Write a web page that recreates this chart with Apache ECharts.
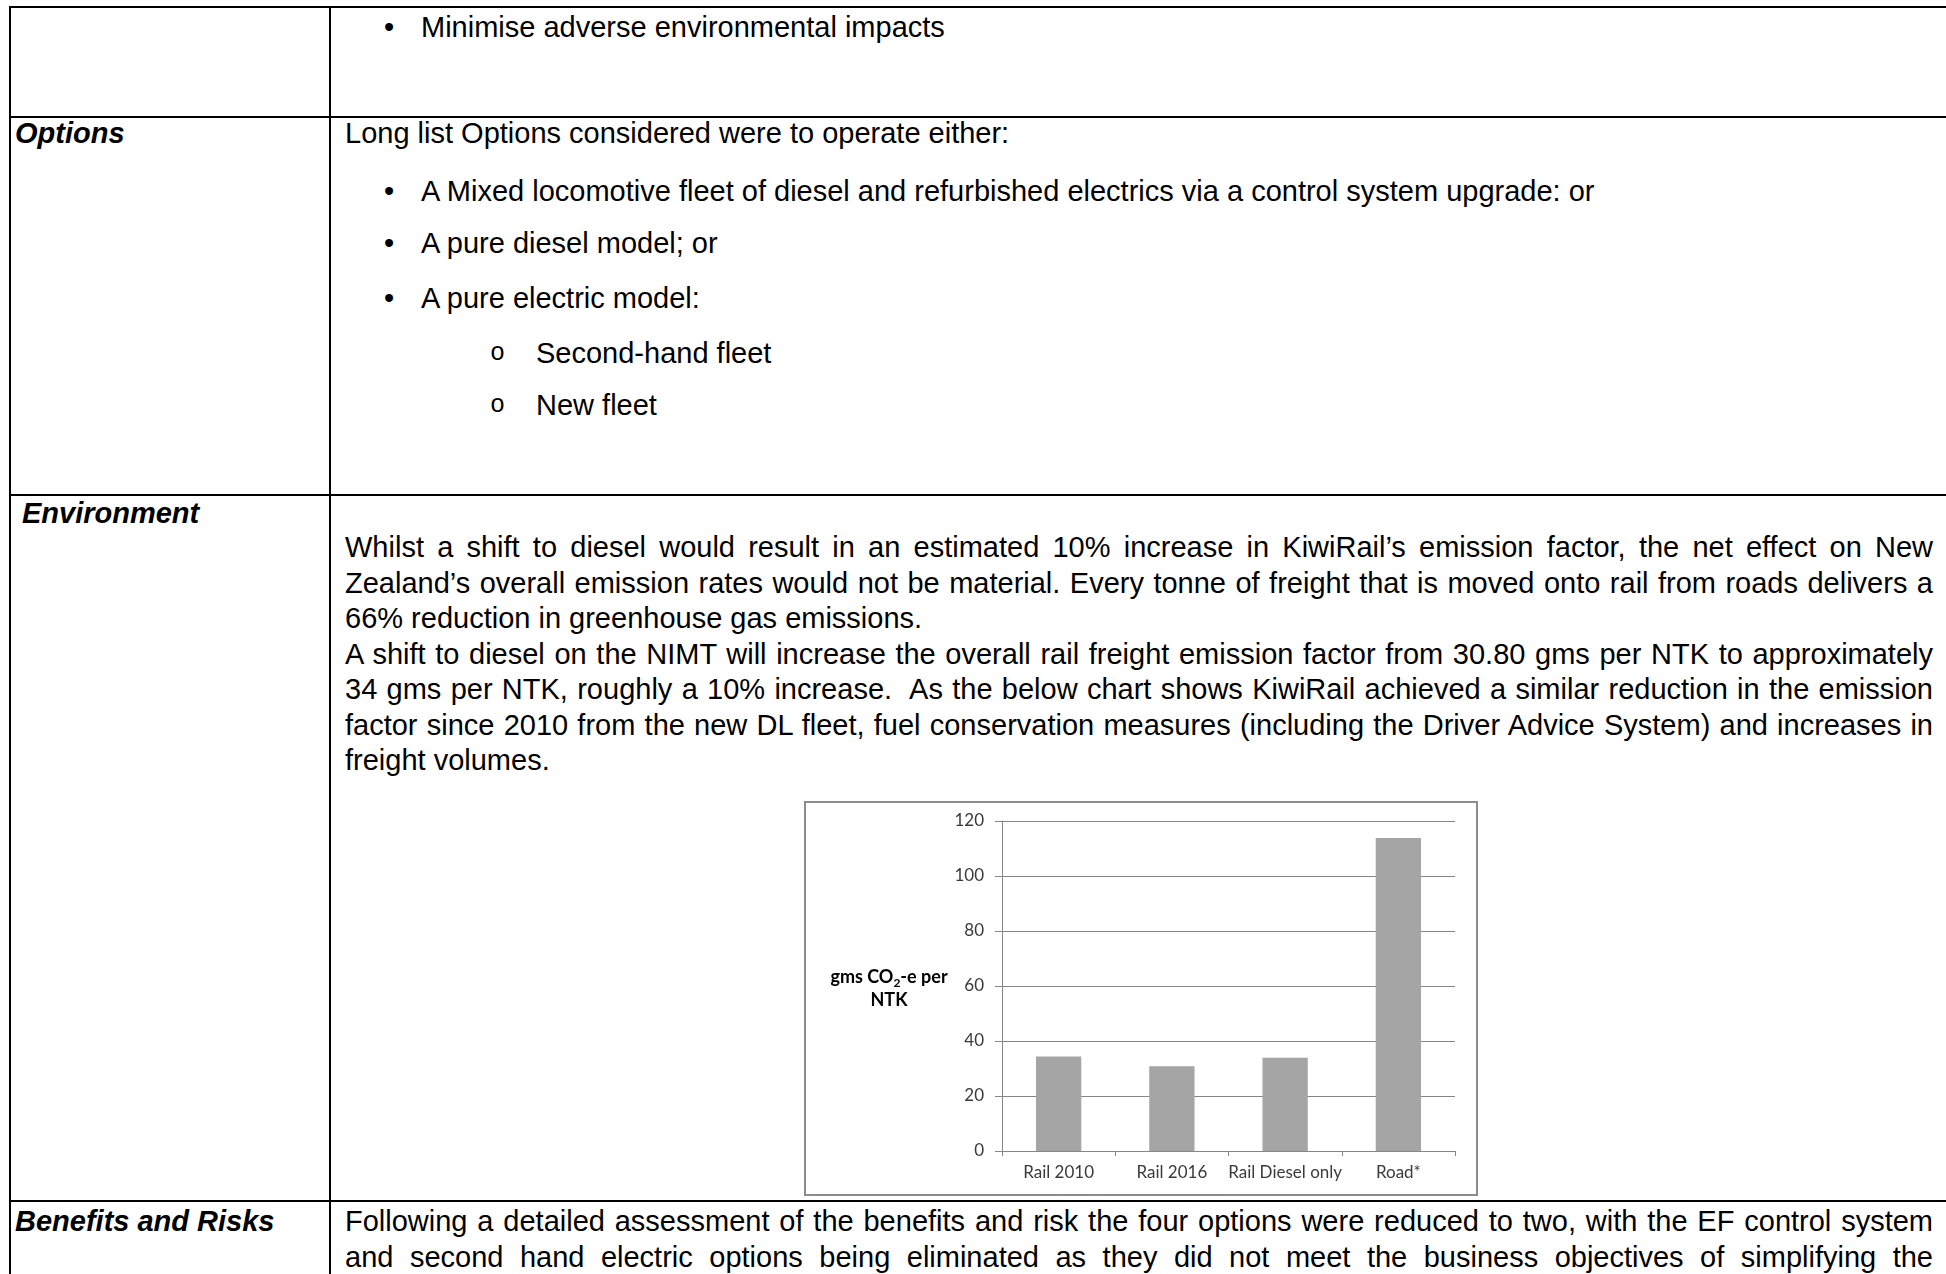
<!DOCTYPE html>
<html>
<head>
<meta charset="utf-8">
<script src="https://cdn.jsdelivr.net/npm/echarts@6/dist/echarts.min.js"></script>
<style>
  html, body { margin: 0; padding: 0; background: #fff; }
  body {
    width: 1946px; height: 1274px; position: relative; overflow: hidden;
    font-family: "Liberation Sans", Arial, sans-serif; font-size: 29px; color: #000;
  }
  .rule { position: absolute; background: #000; }
  .t { position: absolute; white-space: pre; line-height: 36px; }
  .lbl { font-weight: bold; font-style: italic; }
  .sub { font-family: "Liberation Mono", "Courier New", monospace; font-size: 25px; }
  #chartFrame {
    position: absolute; left: 804px; top: 801px; width: 674px; height: 395px;
    box-sizing: border-box; border: 2px solid #8c8c8c;
  }
  #chart { position: absolute; left: 804px; top: 801px; width: 674px; height: 395px; }
</style>
</head>
<body>
  <!-- table rules -->
  <div class="rule" style="left:9px;top:6px;width:1937px;height:2px"></div>
  <div class="rule" style="left:9px;top:116px;width:1937px;height:2px"></div>
  <div class="rule" style="left:9px;top:494px;width:1937px;height:2px"></div>
  <div class="rule" style="left:9px;top:1200px;width:1937px;height:2px"></div>
  <div class="rule" style="left:9px;top:6px;width:2px;height:1268px"></div>
  <div class="rule" style="left:329px;top:6px;width:2px;height:1268px"></div>

  <!-- objectives row (continued) -->
  <div class="t" style="left:384px;top:9px">•</div>
  <div class="t" style="left:421px;top:9px">Minimise adverse environmental impacts</div>

  <!-- options row -->
  <div class="t lbl" style="left:15px;top:115px">Options</div>
  <div class="t" style="left:345px;top:115px">Long list Options considered were to operate either:</div>
  <div class="t" style="left:384px;top:173px">•</div>
  <div class="t" style="left:421px;top:173px">A Mixed locomotive fleet of diesel and refurbished electrics via a control system upgrade: or</div>
  <div class="t" style="left:384px;top:225px">•</div>
  <div class="t" style="left:421px;top:225px">A pure diesel model; or</div>
  <div class="t" style="left:384px;top:280px">•</div>
  <div class="t" style="left:421px;top:280px">A pure electric model:</div>
  <div class="t sub" style="left:490px;top:336px">o</div>
  <div class="t" style="left:536px;top:335px">Second-hand fleet</div>
  <div class="t sub" style="left:490px;top:388px">o</div>
  <div class="t" style="left:536px;top:387px">New fleet</div>

  <!-- environment row -->
  <div class="t lbl" style="left:22px;top:495px">Environment</div>
  <div class="t j" style="left:345px;top:529px">Whilst a shift to diesel would result in an estimated 10% increase in KiwiRail’s emission factor, the net effect on New</div>
  <div class="t j" style="left:345px;top:564.5px">Zealand’s overall emission rates would not be material. Every tonne of freight that is moved onto rail from roads delivers a</div>
  <div class="t" style="left:345px;top:600px">66% reduction in greenhouse gas emissions.</div>
  <div class="t j" style="left:345px;top:635.5px">A shift to diesel on the NIMT will increase the overall rail freight emission factor from 30.80 gms per NTK to approximately</div>
  <div class="t j" style="left:345px;top:671px">34 gms per NTK, roughly a 10% increase.  As the below chart shows KiwiRail achieved a similar reduction in the emission</div>
  <div class="t j" style="left:345px;top:706.5px">factor since 2010 from the new DL fleet, fuel conservation measures (including the Driver Advice System) and increases in</div>
  <div class="t" style="left:345px;top:742px">freight volumes.</div>

  <div id="chartFrame"></div>
  <div id="chart"></div>

  <!-- benefits row -->
  <div class="t lbl" style="left:15px;top:1203px">Benefits and Risks</div>
  <div class="t j" style="left:345px;top:1203px">Following a detailed assessment of the benefits and risk the four options were reduced to two, with the EF control system</div>
  <div class="t j" style="left:345px;top:1239px">and second hand electric options being eliminated as they did not meet the business objectives of simplifying the</div>

<script>
  // Emission factor by freight mode, gms CO2-e per net tonne-km
  const categories = ['Rail 2010', 'Rail 2016', 'Rail Diesel only', 'Road*'];
  const emissions = [34.4, 30.8, 33.9, 113.8];
  const yMin = 0;
  const yMax = 120;
  const yStep = 20;

  // Spread each justified line across the text column
  const COLUMN_WIDTH = 1588;
  function justifyLines() {
    document.querySelectorAll('.j').forEach(el => {
      el.style.wordSpacing = '0px';
      const spaces = (el.textContent.match(/ /g) || []).length;
      const natural = el.getBoundingClientRect().width;
      if (spaces > 0) el.style.wordSpacing = ((COLUMN_WIDTH - natural) / spaces) + 'px';
    });
  }
  justifyLines();
  if (document.fonts && document.fonts.ready) document.fonts.ready.then(justifyLines);

  const gridColor = '#868686';
  const chart = echarts.init(document.getElementById('chart'), null, { renderer: 'canvas' });
  chart.setOption({
    animation: false,
    backgroundColor: 'transparent',
    grid: { left: 198, top: 20, width: 453, height: 330, containLabel: false },
    xAxis: {
      type: 'category',
      data: categories,
      boundaryGap: true,
      axisLine: { show: true, lineStyle: { color: gridColor, width: 1 } },
      axisTick: { show: true, length: 5, alignWithLabel: false, lineStyle: { color: gridColor } },
      axisLabel: { interval: 0, color: '#3a3a3a', fontFamily: 'Lato', fontSize: 17, margin: 13 }
    },
    yAxis: {
      type: 'value',
      min: yMin, max: yMax, interval: yStep,
      axisLine: { show: true, lineStyle: { color: gridColor, width: 1 } },
      axisTick: { show: true, length: 7, lineStyle: { color: gridColor } },
      axisLabel: { color: '#3a3a3a', fontFamily: 'Lato', fontSize: 17, margin: 18 },
      splitLine: { show: true, lineStyle: { color: gridColor, width: 1 } }
    },
    series: [{
      type: 'bar',
      data: emissions,
      barCategoryGap: '60%',
      itemStyle: { color: '#a5a5a5' },
      silent: true
    }],
    graphic: [{
      type: 'text',
      x: 85, y: 188,
      style: {
        text: 'gms CO{sub|2}-e per\nNTK',
        align: 'center',
        verticalAlign: 'middle',
        fill: '#000',
        font: 'bold 18px Lato',
        lineHeight: 23,
        rich: {
          sub: { fontSize: 12, fontWeight: 'bold', fontFamily: 'Lato', verticalAlign: 'bottom', lineHeight: 23, padding: [9, 0, 0, 0] }
        }
      }
    }]
  });
</script>
</body>
</html>
